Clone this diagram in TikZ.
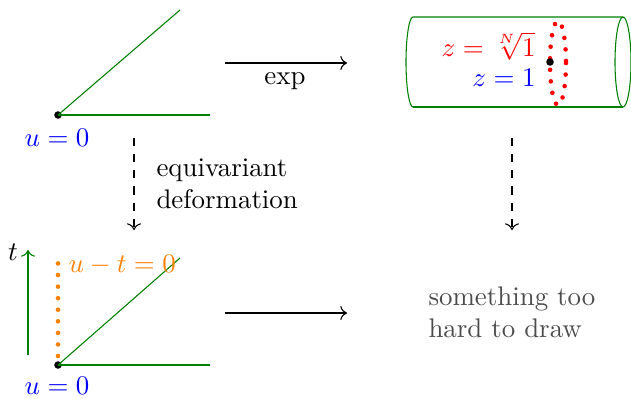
\documentclass[tikz,border=0pt]{standalone}
\usetikzlibrary{arrows.meta}
\definecolor{dgreen}{rgb}{0,0.5,0}
\tikzset{
  gline/.style={draw=dgreen, line width=0.4pt},
  bigdots/.style={line width=1.7pt, line cap=round, dash pattern=on 0pt off 4.3pt},
  mapto/.style={->},
  dmapto/.style={->, dashed},
  pt/.style={circle, fill=black, inner sep=0pt, minimum size=2.8pt},
}
\begin{document}
\begin{tikzpicture}[x=0.3717pt, y=-0.3717pt]
\path[use as bounding box] (0,0) rectangle (631,398);
% top-left wedge
\node[pt] (o1) at (58,115) {};
\coordinate (a1) at (180,10);
\coordinate (b1) at (210,115);
\draw[gline] (o1.center) -- (a1);
\draw[gline] (o1.center) -- (b1);
\node[text=blue] (u1) at (57,138) {$u=0$};
% exp arrow
\coordinate (e1) at (225,63);
\coordinate (e2) at (347,63);
\draw[mapto] (e1) -- (e2);
\node (exp) at (285,81) {exp};
% cylinder
\draw[gline] (413,107) arc[start angle=90, end angle=270, x radius=7, y radius=45] -- (623,17);
\draw[gline] (413,107) -- (623,107);
\draw[gline] (623,62) ellipse[x radius=8, y radius=45];
\draw[red, bigdots] (558,63) ellipse[x radius=8, y radius=42];
\node[pt] (p1) at (550,62) {};
\node[text=red, anchor=east] (zn) at (545,46) {$z=\sqrt[N]{1}$};
\node[text=blue, anchor=east] (z1) at (545,78) {$z=1$};
% dashed arrows
\coordinate (d1) at (134,138);
\coordinate (d2) at (134,230);
\draw[dmapto] (d1) -- (d2);
\node[anchor=west, align=left] (def) at (147,184) {equivariant\\deformation};
\coordinate (d3) at (512,138);
\coordinate (d4) at (512,230);
\draw[dmapto] (d3) -- (d4);
% bottom-left wedge
\node[pt] (o2) at (58,365) {};
\coordinate (a2) at (180,258);
\coordinate (b2) at (210,365);
\draw[gline] (o2.center) -- (a2);
\draw[gline] (o2.center) -- (b2);
\coordinate (t1) at (28,355);
\coordinate (t2) at (28,250);
\draw[gline, ->] (t1) -- (t2);
\node (t) at (13,252) {$t$};
\coordinate (v1) at (58,356);
\coordinate (v2) at (58,253);
\draw[orange, bigdots] (v1) -- (v2);
\node[text=orange, anchor=west] (ut) at (59,265) {$u-t=0$};
\node[text=blue] (u2) at (57,386) {$u=0$};
% bottom arrow
\coordinate (f1) at (225,313);
\coordinate (f2) at (347,313);
\draw[mapto] (f1) -- (f2);
\node[anchor=west, align=left, text=black!70] (hard) at (419,312) {something too\\hard to draw};
\end{tikzpicture}
\end{document}
